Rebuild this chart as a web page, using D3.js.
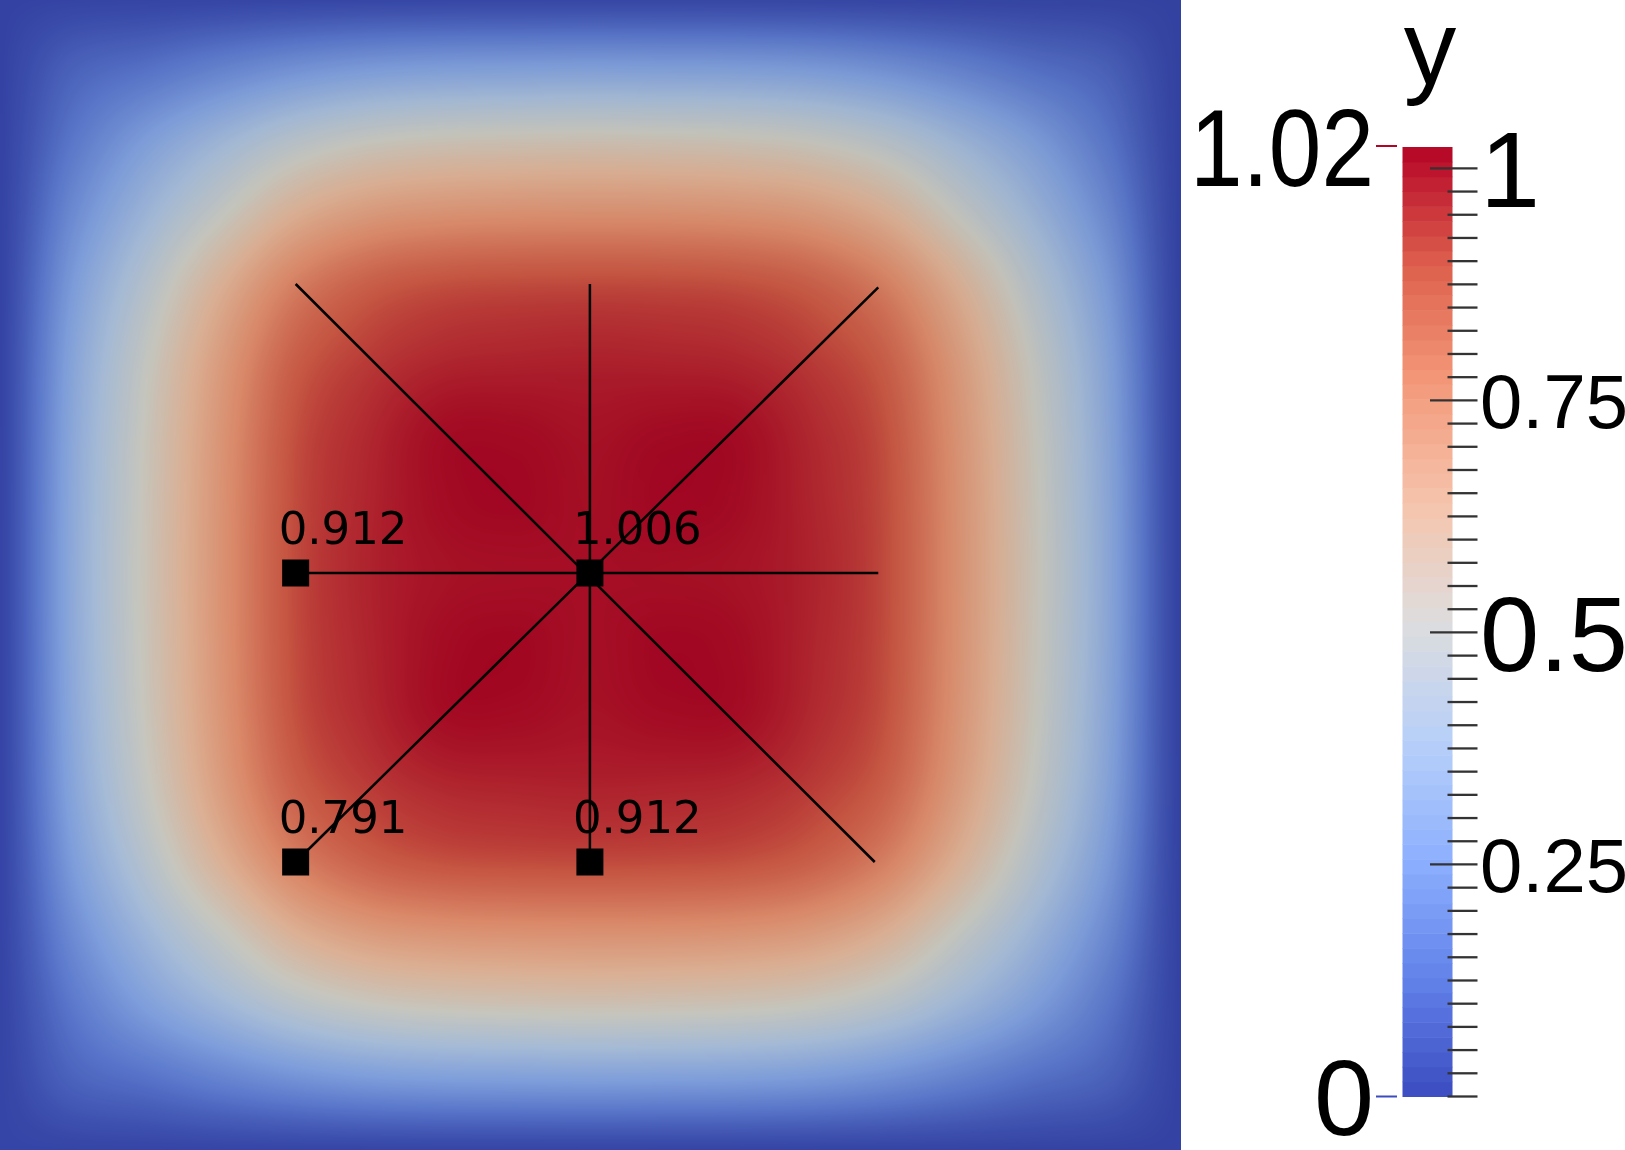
<!DOCTYPE html>
<html>
<head>
<meta charset="utf-8">
<script src="https://cdn.jsdelivr.net/npm/d3@7"></script>
<style>
  html, body { margin: 0; padding: 0; background: #fff; }
  #wrap { position: relative; width: 1625px; height: 1150px; overflow: hidden; }
  #field, #overlay { position: absolute; left: 0; top: 0; }
</style>
</head>
<body>
<div id="wrap">
  <canvas id="field"></canvas>
  <svg id="overlay"></svg>
</div>
<script>
// node positions of the sampled field (one quarter of the unit square, mirrored)
const gridPos = [0, 0.0625, 0.125, 0.1875, 0.25, 0.3125, 0.375, 0.4375, 0.5]

// y values: rows go up from the bottom edge, columns go right
const fieldQuarter = [
  [0, 0, 0, 0, 0, 0, 0, 0, 0],
  [0, 0.08, 0.12, 0.17, 0.215, 0.245, 0.258, 0.262, 0.265],
  [0, 0.14, 0.26, 0.36, 0.45, 0.505, 0.528, 0.536, 0.54],
  [0, 0.2, 0.36, 0.5, 0.635, 0.705, 0.73, 0.738, 0.74],
  [0, 0.255, 0.45, 0.635, 0.791, 0.87, 0.902, 0.91, 0.912],
  [0, 0.29, 0.505, 0.705, 0.87, 0.935, 0.965, 0.972, 0.975],
  [0, 0.305, 0.528, 0.73, 0.902, 0.965, 1.008, 1.01, 1.0],
  [0, 0.312, 0.536, 0.738, 0.91, 0.972, 1.01, 1.018, 1.005],
  [0, 0.315, 0.54, 0.74, 0.912, 0.975, 1.0, 1.005, 1.006],
]

const valueRange = [0, 1.023]
const majorTicks = [0.25, 0.5, 0.75, 1]
const majorLabels = ["0.25", "0.5", "0.75", "1"]
const minorStep = 0.025
const legendTitle = "y"

// probe points and their labels
const probeX = [0.25, 0.5, 0.25, 0.5]
const probeY = [0.5, 0.5, 0.25, 0.25]
const probeLabels = ["0.912", "1.006", "0.791", "0.912"]

// the four cut lines
const lineFrom = [[0.25, 0.5], [0.5, 0.25], [0.25, 0.25], [0.25, 0.75]]
const lineTo = [[0.745, 0.5], [0.5, 0.75], [0.745, 0.747], [0.742, 0.25]]

// cool to warm
const coolWarm = ["#3b4cc0", "#6282ea", "#8db0fe", "#b8d0f9", "#dddddd",
  "#f5c4ac", "#f49a7b", "#de604d", "#b40426"]

const W = 1625, H = 1150
const fieldW = 1181, fieldH = 1150

const x = d3.scaleLinear().domain([0, 1]).range([1.4, 1178.4])
const y = d3.scaleLinear().domain([0, 1]).range([1151, -5])

const color = d3.scaleLinear()
  .domain(coolWarm.map((c, i) => valueRange[1] * i / (coolWarm.length - 1)))
  .range(coolWarm)
  .interpolate(d3.interpolateRgb)
  .clamp(true)

// slightly warm light, a little brighter on the lower left
const lightRGB = [1, 1, 0.96]
const shadeAt = (xd, yd) => 0.885 + 0.02 * (0.5 - xd) + 0.02 * (0.5 - yd)

/*
  Field
*/
const n = (gridPos.length - 1) * 2
const step = gridPos[1] - gridPos[0]
const nodes = []
for (let j = 0; j <= n; j++) {
  const qj = j <= n / 2 ? j : n - j
  for (let i = 0; i <= n; i++) {
    const qi = i <= n / 2 ? i : n - i
    nodes.push(fieldQuarter[qj][qi])
  }
}
const node = (i, j) => {
  i = Math.max(0, Math.min(n, i))
  j = Math.max(0, Math.min(n, j))
  return nodes[j * (n + 1) + i]
}
const crWeights = (t) => [
  0.5 * (-t + 2 * t * t - t * t * t),
  0.5 * (2 - 5 * t * t + 3 * t * t * t),
  0.5 * (t + 4 * t * t - 3 * t * t * t),
  0.5 * (-t * t + t * t * t),
]
const cellOf = (v) => {
  const d = Math.max(0, Math.min(1, v))
  const u = d / step
  let k = Math.floor(u)
  if (k >= n) k = n - 1
  return { k, w: crWeights(u - k), d }
}

const lutSize = 1024
const lut = d3.range(lutSize).map((k) => d3.rgb(color(valueRange[1] * k / (lutSize - 1))))

const canvas = d3.select("#field").attr("width", fieldW).attr("height", fieldH).node()
const ctx = canvas.getContext("2d")
const img = ctx.createImageData(fieldW, fieldH)
const cols = d3.range(fieldW).map((px) => cellOf(x.invert(px + 0.5)))
for (let py = 0; py < fieldH; py++) {
  const r = cellOf(y.invert(py + 0.5))
  for (let px = 0; px < fieldW; px++) {
    const c = cols[px]
    let v = 0
    for (let b = 0; b < 4; b++) {
      let row = 0
      for (let a = 0; a < 4; a++) row += c.w[a] * node(c.k - 1 + a, r.k - 1 + b)
      v += r.w[b] * row
    }
    let li = Math.round(v / valueRange[1] * (lutSize - 1))
    li = Math.max(0, Math.min(lutSize - 1, li))
    const col = lut[li]
    const s = shadeAt(c.d, r.d)
    const o = (py * fieldW + px) * 4
    img.data[o] = col.r * s * lightRGB[0]
    img.data[o + 1] = col.g * s * lightRGB[1]
    img.data[o + 2] = col.b * s * lightRGB[2]
    img.data[o + 3] = 255
  }
}
ctx.putImageData(img, 0, 0)

const svg = d3.select("#overlay").attr("width", W).attr("height", H)

/*
  Cut lines and probes
*/
svg.append("g")
  .selectAll("line")
  .data(lineFrom.map((p, i) => [p, lineTo[i]]))
  .enter()
  .append("line")
  .attr("x1", (d) => x(d[0][0]))
  .attr("y1", (d) => y(d[0][1]))
  .attr("x2", (d) => x(d[1][0]))
  .attr("y2", (d) => y(d[1][1]))
  .attr("stroke", "#000")
  .attr("stroke-width", 2.5)

const probes = svg.append("g")
  .selectAll("g")
  .data(probeLabels.map((label, i) => ({ label, px: probeX[i], py: probeY[i] })))
  .enter()
  .append("g")
  .attr("transform", (d) => "translate(" + x(d.px) + "," + y(d.py) + ")")

probes.append("rect")
  .attr("x", -13.5)
  .attr("y", -13.5)
  .attr("width", 27)
  .attr("height", 27)
  .attr("fill", "#000")

probes.append("text")
  .text((d) => d.label)
  .attr("x", -17)
  .attr("y", -29)
  .attr("font-family", "DejaVu Sans")
  .attr("font-size", 45)
  .attr("fill", "#000")

/*
  Colour legend
*/
const cb = d3.scaleLinear().domain(valueRange).range([1096.5, 147])
const barX = 1402.5, barW = 50
const bands = 64
const legend = svg.append("g")

legend.append("g")
  .selectAll("rect")
  .data(d3.range(bands))
  .enter()
  .append("rect")
  .attr("x", barX)
  .attr("width", barW)
  .attr("y", (k) => cb(valueRange[1] * (k + 1) / bands))
  .attr("height", (k) => cb(valueRange[1] * k / bands) - cb(valueRange[1] * (k + 1) / bands) + 0.5)
  .attr("fill", (k) => color(valueRange[1] * (k + 0.5) / bands))

const minorTicks = d3.range(0, 1 + minorStep / 2, minorStep)
  .filter((v) => !majorTicks.some((m) => Math.abs(m - v) < 1e-6))

legend.append("g")
  .selectAll("line")
  .data(minorTicks)
  .enter()
  .append("line")
  .attr("x1", 1447.5)
  .attr("x2", 1477.5)
  .attr("y1", (v) => cb(v))
  .attr("y2", (v) => cb(v))
  .attr("stroke", "#333")
  .attr("stroke-width", 2.3)

legend.append("g")
  .selectAll("line")
  .data(majorTicks)
  .enter()
  .append("line")
  .attr("x1", 1430)
  .attr("x2", 1477.5)
  .attr("y1", (v) => cb(v))
  .attr("y2", (v) => cb(v))
  .attr("stroke", "#333")
  .attr("stroke-width", 2.3)

// labels are shrunk to fit their box, as the colour bar does
const maxLabelW = 148
legend.append("g")
  .selectAll("text")
  .data(majorTicks)
  .enter()
  .append("text")
  .text((v, i) => majorLabels[i])
  .attr("x", 1480)
  .attr("font-family", "Liberation Sans")
  .attr("font-size", 108)
  .attr("fill", "#000")
  .each(function (v) {
    const w = this.getComputedTextLength()
    const fs = w > maxLabelW ? 108 * maxLabelW / w : 108
    d3.select(this).attr("font-size", fs).attr("y", cb(v) + 0.358 * fs)
  })

// range labels with small coloured marks
const fmt = d3.format(".3~")
legend.append("text")
  .text(fmt(valueRange[1]))
  .attr("x", 1190)
  .attr("y", cb(valueRange[1]) + 0.358 * 110)
  .attr("font-family", "Liberation Sans")
  .attr("font-size", 110)
  .attr("textLength", 184)
  .attr("lengthAdjust", "spacingAndGlyphs")
  .attr("fill", "#000")

legend.append("text")
  .text(fmt(valueRange[0]))
  .attr("x", 1374)
  .attr("y", cb(valueRange[0]) + 0.358 * 108)
  .attr("text-anchor", "end")
  .attr("font-family", "Liberation Sans")
  .attr("font-size", 108)
  .attr("fill", "#000")

legend.append("g")
  .selectAll("line")
  .data(valueRange)
  .enter()
  .append("line")
  .attr("x1", 1376)
  .attr("x2", 1397)
  .attr("y1", (v, i) => cb(v) - i)
  .attr("y2", (v, i) => cb(v) - i)
  .attr("stroke", (v) => color(v))
  .attr("stroke-width", 2)

legend.append("text")
  .text(legendTitle)
  .attr("x", 1430)
  .attr("y", 84)
  .attr("text-anchor", "middle")
  .attr("font-family", "Liberation Sans")
  .attr("font-size", 105)
  .attr("fill", "#000")
</script>
</body>
</html>
